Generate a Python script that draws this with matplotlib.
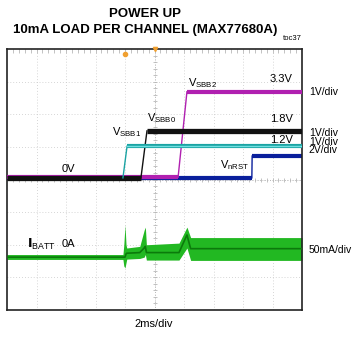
import matplotlib
matplotlib.use("Agg")
import matplotlib.pyplot as plt
import numpy as np

plt.rcParams['font.family'] = ['Liberation Sans', 'DejaVu Sans']

# scope screen: 10 x 2ms horizontally, 8 divisions vertically
t_max = 20.0
n_ydiv = 8

# voltage traces, in screen divisions (time in ms)
sbb1_t = [0, 7.86, 8.14, 20]
sbb1_y = [4.05, 4.05, 5.02, 5.02]
sbb0_t = [0, 9.08, 9.49, 20]
sbb0_y = [4.05, 4.05, 5.49, 5.49]
sbb2_t = [0, 11.6, 12.2, 20]
sbb2_y = [4.07, 4.07, 6.69, 6.69]
nrst_t = [0, 16.6, 16.62, 20]
nrst_y = [4.05, 4.05, 4.72, 4.72]

# battery current envelope (divisions)
ibatt_t  = [0, 7.86, 7.92, 8.0, 8.07, 8.12, 9.0, 9.3, 9.38, 9.45, 11.66, 12.2, 12.45, 20]
ibatt_hi = [1.70, 1.70, 2.0, 2.61, 2.0, 1.90, 1.95, 2.45, 2.54, 2.0, 2.05, 2.54, 2.22, 2.22]
ibatt_lo = [1.55, 1.55, 1.35, 1.29, 1.45, 1.56, 1.58, 1.62, 1.70, 1.53, 1.53, 1.90, 1.52, 1.52]
ibatt_mid = [1.62, 1.62, 1.62, 1.62, 1.72, 1.74, 1.76, 1.90, 1.95, 1.76, 1.76, 2.30, 1.88, 1.88]

fig = plt.figure(figsize=(3.56, 3.37), dpi=100)
ax = fig.add_axes([7 / 356, 27 / 337, 295 / 356, 261 / 337])
ax.set_xlim(0, t_max)
ax.set_ylim(0, n_ydiv)

# grid
for gx in np.arange(2, t_max, 2):
    ax.axvline(gx, color='#c8c8c8', lw=0.6, ls=(0, (1, 2.5)), zorder=0)
for gy in range(1, n_ydiv):
    ax.axhline(gy, color='#c8c8c8', lw=0.6, ls=(0, (1, 2.5)), zorder=0)
ax.axvline(10, color='#b0b0b0', lw=0.6, ls=(0, (1, 2)), zorder=0)
ax.axhline(4, color='#b0b0b0', lw=0.6, ls=(0, (1, 2)), zorder=0)
ticks_x = np.arange(0.4, t_max, 0.4)
ticks_y = np.arange(0.2, n_ydiv, 0.2)
ax.plot(ticks_x, np.full(len(ticks_x), 4), '|', color='#b8b8b8', ms=3, mew=0.6, zorder=0)
ax.plot(np.full(len(ticks_y), 10), ticks_y, '_', color='#b8b8b8', ms=3, mew=0.6, zorder=0)
ax.plot(ticks_x, np.full(len(ticks_x), n_ydiv - 0.05), '|', color='#b8b8b8', ms=3, mew=0.6, zorder=0)

ax.set_xticks([])
ax.set_yticks([])
for s in ax.spines.values():
    s.set_linewidth(1.2)
    s.set_color('#222222')


def trace(t, y, color, lw, z_base, z):
    # flat parts drawn thick, the edge thin
    ax.plot(t[:2], y[:2], color=color, lw=lw, zorder=z_base, solid_capstyle='butt')
    ax.plot(t[1:3], y[1:3], color=color, lw=1, zorder=z)
    ax.plot(t[2:], y[2:], color=color, lw=lw, zorder=z, solid_capstyle='butt')


trace(sbb1_t, sbb1_y, '#1aa3a3', 3, 1, 5)
trace(nrst_t, nrst_y, '#0a1f9c', 3, 2, 2)
trace(sbb2_t, sbb2_y, '#b020b0', 3, 3, 3)
trace(sbb0_t, sbb0_y, '#111111', 3.8, 4, 4)
ax.plot(sbb1_t[2:], sbb1_y[2:], color='#6fe0e0', lw=1, zorder=5)

ax.fill_between(ibatt_t, ibatt_lo, ibatt_hi, color='#22b822', lw=0, zorder=2)
ax.plot(ibatt_t, ibatt_mid, color='#0b7a0b', lw=1.2, zorder=3)

# trigger markers
ax.plot([8.0], [7.85], marker='o', color='#f0a030', ms=3, zorder=6, clip_on=False)
ax.plot([10.0], [8.0], marker='v', color='#f0a030', ms=3, zorder=6, clip_on=False)

fs = 8
ax.text(12.27, 6.87, r'$\mathregular{V_{SBB2}}$', fontsize=fs, va='baseline')
ax.text(17.83, 6.99, '3.3V', fontsize=fs, va='baseline')
ax.text(9.49, 5.79, r'$\mathregular{V_{SBB0}}$', fontsize=fs, va='baseline')
ax.text(17.83, 5.76, '1.8V', fontsize=fs, va='baseline')
ax.text(7.12, 5.36, r'$\mathregular{V_{SBB1}}$', fontsize=fs, va='baseline')
ax.text(17.83, 5.12, '1.2V', fontsize=fs, va='baseline')
ax.text(14.44, 4.35, r'$\mathregular{V_{nRST}}$', fontsize=fs, va='baseline')
ax.text(3.73, 4.23, '0V', fontsize=fs, va='baseline')
ax.text(1.36, 1.90, r'$\mathbf{I}_{\mathregular{BATT}}$', fontsize=fs + 1, va='baseline')
ax.text(3.73, 1.93, '0A', fontsize=fs, va='baseline')

for yy, lab in [(6.59, '1V/div'), (5.33, '1V/div'), (5.07, '1V/div'), (4.81, '2V/div'), (1.75, '50mA/div')]:
    ax.text(20.47, yy, lab, fontsize=7.5, va='baseline', clip_on=False)

fig.text(145 / 356, 1 - 17 / 337, 'POWER UP', fontsize=9.5, fontweight='bold', ha='center', va='baseline')
fig.text(145 / 356, 1 - 33 / 337, '10mA LOAD PER CHANNEL (MAX77680A)', fontsize=9.5, fontweight='bold',
         ha='center', va='baseline')
fig.text(283 / 356, 1 - 40 / 337, 'toc37', fontsize=5.5, va='baseline')
fig.text(154 / 356, 1 - 327 / 337, '2ms/div', fontsize=fs, ha='center', va='baseline')

fig.savefig('out.png', dpi=100)
